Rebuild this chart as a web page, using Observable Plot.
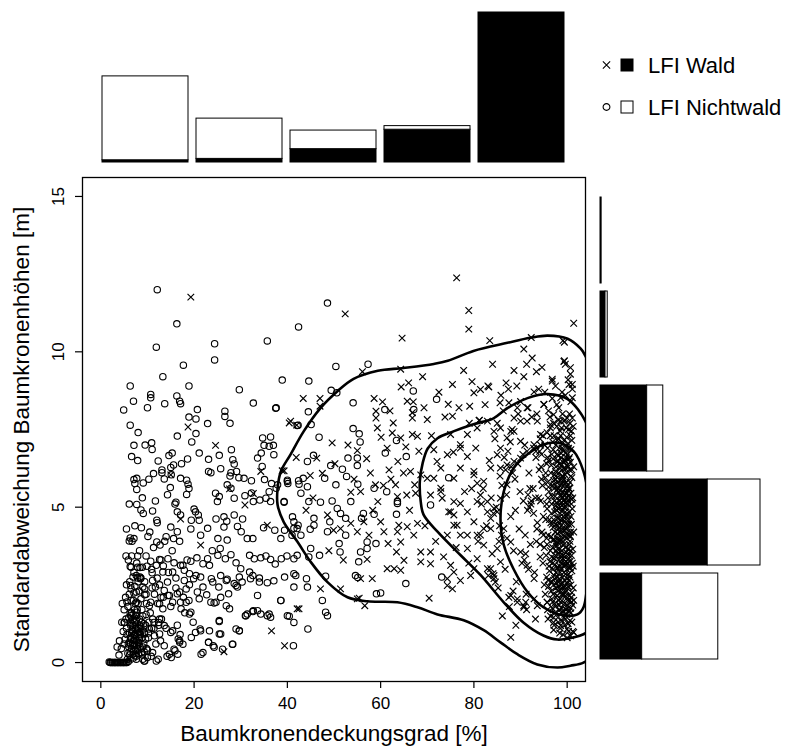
<!DOCTYPE html>
<html><head><meta charset="utf-8">
<script src="https://cdn.jsdelivr.net/npm/d3@7"></script>
<script src="https://cdn.jsdelivr.net/npm/@observablehq/plot@0.6"></script>
<style>
html,body{margin:0;padding:0;background:#fff;}
#chart{position:relative;width:787px;height:747px;overflow:hidden;font-family:"Liberation Sans",Arial,Helvetica,sans-serif;}
#chart svg{position:absolute;left:0;top:0;}
</style></head><body><div id="chart"></div>
<script>
// ---------- labels & ticks ----------
const xTitle = "Baumkronendeckungsgrad [%]";
const yTitle = "Standardabweichung Baumkronenhöhen [m]";
const xTicks = [0, 20, 40, 60, 80, 100];
const yTicks = [0, 5, 10, 15];
const legendLabels = ["LFI Wald", "LFI Nichtwald"];

// ---------- marginal histograms (counts) ----------
const xBins = ["0–20", "20–40", "40–60", "60–80", "80–100"];
const topWald = [8, 13, 48, 118, 540];
const topNichtwald = [302, 145, 67, 13, 0];
const yBins = ["0–3", "3–6", "6–9", "9–12", "12–15"];
const rightWald = [150, 386, 168, 18, 4];
const rightNichtwald = [274, 190, 58, 8, 0];

// ---------- LFI Nichtwald points [cover %, sd m] ----------
const nichtwaldZero = [[2.0,0],[2.15,0],[2.4,0],[2.55,0],[2.8,0],[3.0,0],[3.1,0],[3.35,0],[3.6,0],[3.7,0],[3.95,0],[4.2,0],[4.3,0],[4.55,0],[4.8,0],[4.9,0],[5.15,0],[5.4,0],[5.6,0],[1.8,0.02],[5.9,0.03]];
const nichtwaldLeft = [[12.1,12.0],[16.3,10.9],[11.9,10.15],[24.4,10.26],[24.4,9.74],[35.7,10.35],[17.7,9.57],[13.3,9.2],[18.9,8.9],[6.3,8.9],[7.0,8.41],[4.9,8.13],[10.7,8.63],[10.7,8.52],[10.0,8.2],[13.7,8.33],[16.3,8.58],[16.9,8.41],[17.1,8.33],[29.7,8.78],[32.7,8.35],[37.6,8.2],[38.9,9.09],[42.4,10.8],[20.7,8.14],[18.9,7.9],[20.4,7.84],[20.4,7.37],[22.9,7.69],[26.6,8.09],[26.6,7.92],[27.7,7.7],[6.3,7.64],[8.0,7.4],[16.4,7.29],[7.1,6.99],[10.9,7.07],[11.0,6.86],[6.6,6.63],[12.3,6.49],[14.6,6.66],[15.3,6.74],[21.1,6.74],[23.1,6.54],[25.4,6.67],[28.0,6.85],[28.3,6.53],[28.6,6.39],[18.6,6.55],[34.7,7.23],[36.4,7.26],[35.0,6.99],[37.0,6.99],[36.1,6.96],[33.6,6.58],[34.4,6.74],[37.1,6.69],[34.6,6.31],[42.1,7.63],[15.0,6.28],[15.6,6.36],[13.1,6.11],[15.1,6.04],[7.1,5.89],[7.7,5.93],[7.3,5.76],[9.1,5.78],[7.7,5.57],[11.3,6.08],[13.6,5.91],[14.9,5.63],[17.1,5.93],[18.4,5.87],[18.7,5.74],[23.1,6.15],[23.6,6.11],[25.7,6.24],[27.7,6.0],[27.9,6.11],[29.1,6.15],[29.6,5.95],[27.1,5.72],[27.9,5.61],[30.7,5.93],[32.3,5.85],[35.1,5.89],[36.6,5.76],[37.9,5.72],[40.0,5.87],[40.1,5.76],[42.4,5.85],[24.6,5.45],[25.4,5.34],[18.4,5.41],[25.0,5.18],[28.6,5.29],[30.9,5.37],[32.3,5.46],[32.7,5.18],[34.1,5.23],[35.4,5.29],[36.1,5.5],[36.4,5.18],[37.6,5.61],[39.3,5.18],[7.7,5.09],[8.6,4.91],[11.1,4.88],[16.1,5.16],[16.4,4.85],[17.1,4.75],[20.0,4.94],[20.3,4.85],[20.9,4.75],[19.4,4.58],[21.1,4.58],[12.0,4.58],[8.7,4.34],[15.0,4.36],[16.4,4.21],[15.6,3.99],[14.0,4.05],[6.3,4.01],[6.1,3.91],[7.1,3.99],[10.1,4.06],[12.0,3.88],[12.7,3.78],[21.4,4.1],[22.9,4.32],[24.7,4.62],[26.4,4.69],[27.0,4.55],[26.4,4.36],[25.1,3.99],[27.1,3.94],[29.3,4.38],[30.1,4.21],[31.4,3.99],[32.6,3.99],[28.6,4.75],[30.4,4.62],[34.9,4.34],[37.3,4.26],[39.4,4.26],[38.6,3.99],[41.0,4.1],[41.4,4.32],[42.3,4.42],[41.1,4.69]];
const nichtwaldLow = [[5.4,3.43],[6.6,3.43],[7.9,3.43],[9.7,3.43],[10.7,3.26],[12.6,3.32],[14.4,3.34],[15.7,3.21],[13.4,3.11],[17.1,3.13],[17.9,2.97],[19.3,3.26],[20.6,3.37],[21.9,3.18],[22.9,3.34],[23.9,3.6],[25.6,3.67],[25.1,3.45],[26.7,3.34],[27.9,3.47],[29.0,3.21],[30.0,3.02],[31.9,3.45],[32.9,3.34],[34.3,3.37],[35.4,3.43],[36.4,3.32],[37.4,3.17],[38.7,3.34],[39.9,3.43],[41.4,3.34],[6.3,3.09],[8.4,3.06],[7.6,2.8],[8.4,2.75],[11.0,2.89],[12.1,2.72],[14.3,2.59],[16.1,2.72],[17.9,2.64],[19.9,2.7],[21.4,2.75],[23.7,2.7],[25.7,2.8],[27.1,2.68],[28.6,2.54],[30.3,2.59],[32.1,2.7],[34.0,2.72],[35.7,2.57],[37.1,2.63],[39.4,2.75],[41.4,2.86],[6.4,2.48],[9.0,2.43],[7.1,2.24],[9.4,2.18],[10.7,1.94],[12.9,2.1],[14.4,2.16],[16.4,2.21],[17.1,1.94],[18.9,2.0],[20.7,2.27],[22.7,2.18],[24.3,1.92],[25.7,2.1],[27.4,2.21],[29.3,2.43],[31.4,1.56],[32.7,1.67],[34.3,1.56],[36.1,1.56],[38.6,2.0],[40.4,1.49],[5.0,1.29],[6.4,1.51],[7.7,1.62],[6.4,1.19],[7.1,0.86],[8.3,0.76],[9.3,0.97],[7.1,0.54],[7.3,0.22],[8.7,0.32],[10.0,0.16],[9.3,0.05],[11.4,1.29],[12.6,1.4],[13.6,1.19],[15.0,0.97],[16.9,0.65],[16.6,0.76],[14.7,0.27],[15.7,0.43],[19.3,1.62],[20.3,0.97],[21.4,1.02],[21.9,0.32],[23.1,0.65],[24.1,0.54],[25.4,1.35],[25.7,0.92],[28.2,0.59],[29.7,1.02],[31.0,1.51],[41.3,0.54],[12.3,0.11],[3.9,0.24],[5.7,0.11]];
const nichtwaldCorner = [[6.5,3.07],[7.9,3.07],[8.9,3.07],[6.9,2.75],[7.9,2.72],[8.6,2.72],[11.9,3.13],[13.3,2.91],[15.4,2.91],[17.6,3.13],[19.0,2.86],[20.4,2.8],[23.3,3.13],[6.5,2.37],[7.6,2.27],[9.4,2.37],[11.1,2.64],[11.7,2.43],[13.6,2.32],[14.7,2.16],[16.9,2.27],[18.3,2.37],[21.9,2.43],[24.0,2.59],[25.3,2.43],[26.9,2.64],[29.0,2.48],[29.7,2.75],[31.9,2.91],[32.6,2.8],[34.0,2.59],[33.6,2.16],[7.6,1.94],[8.6,2.05],[10.4,1.83],[12.6,1.89],[13.3,1.73],[15.4,1.94],[17.2,1.73],[18.3,1.94],[19.0,1.56],[21.1,2.05],[23.6,1.94],[24.7,1.94],[26.9,1.83],[27.6,1.73],[31.1,1.51],[32.6,1.64],[33.6,1.67],[5.1,1.29],[6.9,1.4],[7.6,1.51],[8.3,1.4],[6.9,1.19],[6.1,0.97],[6.5,0.76],[7.2,0.59],[7.9,0.43],[6.9,0.27],[8.3,0.97],[9.4,0.92],[10.4,1.08],[11.1,1.4],[12.4,1.29],[11.5,0.86],[12.6,0.92],[13.6,0.54],[11.1,0.32],[9.4,0.05],[15.4,1.02],[16.9,0.7],[17.6,0.59],[15.9,0.38],[15.1,0.16],[16.5,0.27],[19.4,0.81],[21.3,1.08],[23.3,1.02],[25.4,0.92],[21.5,0.27],[23.1,0.65],[24.3,0.49],[26.1,0.43],[28.3,0.59],[29.0,1.08],[29.7,1.02],[25.4,1.32],[7.6,0.11],[9.0,0.11],[11.9,0.05],[6.1,0.65],
[6.6,0.45],[7.0,0.7],[7.4,0.4],[7.8,0.95],[8.2,0.6],[8.6,1.15],[9.0,0.5],[9.6,0.75],[10.2,0.95],[6.8,1.05],[7.5,1.1],[8.9,0.25],[6.3,0.35],[7.3,1.3],[8.0,0.8],[9.8,0.45],[7.6,0.2],[8.5,0.9],
[3.5,0.5],[4.0,0.7],[4.4,0.45],[4.8,1.0],[5.2,0.75],[5.5,1.1],[5.9,0.6],[6.3,1.6],[6.7,1.25],[7.2,1.7],[7.6,1.35],[8.0,1.9],[4.5,1.3],[5.0,1.7],[5.6,1.95],[6.0,1.45],[6.6,0.95],[7.0,0.35],[7.3,0.75],[7.7,0.55],[8.1,0.65],[8.4,1.2],[5.8,0.3],[6.4,0.6],[7.9,1.05],[6.9,1.55],[7.4,1.9],[8.8,1.7],[9.2,1.25],[9.7,1.55],[10.3,1.3],[10.9,1.1],[6.1,2.2],[7.3,2.45],[8.0,2.6],[5.5,2.5]];
const nichtwaldExtra = [[5.3,2.1],[5.8,1.8],[6.2,2.6],[6.6,1.6],[7.0,2.0],[7.4,1.2],[7.8,1.7],[8.2,2.3],[8.6,1.0],[9.0,1.5],[9.4,2.6],[9.8,1.9],[10.2,0.8],[10.6,1.6],[11.0,2.4],[11.4,1.1],[11.8,0.6],[12.2,1.9],[12.6,2.5],[13.0,1.4],[5.6,0.9],[6.0,0.5],[6.4,0.8],[6.8,0.6],[7.2,0.9],[7.6,0.7],[8.0,1.1],[8.4,0.5],[8.8,0.8],[9.2,0.6],[9.6,1.2],[10.0,0.4],[6.3,1.3],[6.9,1.0],[7.5,1.5],[8.1,0.3],[8.7,1.3],[9.3,0.35],[5.9,3.3],[6.7,3.9],[7.3,4.4],[8.3,3.6],[9.1,4.8],[9.9,3.1],[10.5,4.2],[11.3,3.7],[12.1,4.5],[12.9,3.3],[13.7,3.9],[14.5,2.9],[15.3,3.6],[16.1,2.4],[16.9,3.9],[17.7,2.1],[18.5,3.3],[19.3,4.3],[8.9,5.3],[10.3,5.9],[11.7,5.2],[13.1,6.2],[14.3,5.4],[15.9,5.1],[17.3,6.4],[18.9,5.6],[19.5,7.1],[7.9,6.5],[9.5,7.0],[6.1,5.1],[5.5,4.3],[6.5,2.0],[7.1,2.9],[7.7,3.2],[8.5,2.7],[9.7,2.2],[10.9,3.0],[11.5,2.2],[12.4,1.2],[13.4,2.1],[14.0,1.1],[15.0,1.8],[16.4,1.2],[17.0,0.9],[18.0,1.6],[19.0,2.5],[19.8,1.3],[5.0,0.6],[5.4,1.4],[4.6,1.9],[6.2,0.25],[7.0,0.15],[7.9,0.45],[10.8,0.2],[12.8,0.7],[14.2,0.2]];
const nichtwaldMid = [[50.4,9.53],[57.3,9.6],[44.6,9.06],[49.4,8.76],[50.6,8.68],[54.1,8.36],[37.5,8.18],[44.5,8.07],[42.3,7.64],[45.1,7.66],[54.1,7.53],[55.4,7.36],[46.8,7.25],[67.0,8.74],[72.0,8.47],[67.1,8.14],[60.9,8.14],[55.6,7.1],[53.0,6.58],[55.0,6.58],[55.0,6.34],[61.0,6.74],[63.4,7.15],[65.5,6.63],[45.6,6.67],[44.3,6.47],[49.3,6.34],[51.8,6.22],[52.7,5.99],[48.0,5.93],[50.4,5.72],[43.4,5.93],[42.5,5.74],[44.3,5.66],[40.0,5.83],[39.3,5.16],[42.9,5.45],[44.6,5.18],[47.1,5.16],[49.6,5.2],[50.7,4.96],[51.4,4.8],[53.6,5.18],[55.1,5.74],[58.6,5.61],[61.3,5.5],[63.6,5.12],[63.4,4.77],[58.6,4.77],[56.3,4.8],[55.9,4.64],[52.5,4.64],[49.1,4.53],[45.7,4.64],[45.7,4.42],[41.4,4.53],[42.1,4.31],[44.9,4.29],[42.9,4.1],[48.6,4.21],[51.1,3.83],[51.3,3.56],[52.5,4.1],[57.1,3.88],[55.7,3.56],[57.1,3.67],[59.0,3.83],[55.3,3.24],[54.6,2.8],[55.1,2.74],[48.2,2.78],[46.9,3.45],[44.6,3.4],[45.0,3.67],[42.1,3.45],[41.8,2.8],[44.1,2.7],[44.3,2.43],[41.4,2.43],[38.6,2.0],[47.5,2.0],[48.2,1.62],[48.6,1.51],[59.1,2.21],[65.4,2.54],[73.1,2.75],[74.6,5.95],[70.7,5.07],[63.6,5.18],[36.4,1.46],[35.7,1.51],[40.0,1.51],[48.6,11.57],[44.4,1.08],[41.4,1.29],[60.0,2.24]];

// ---------- LFI Wald points [cover %, sd m] ----------
const waldLeft = [[19.3,11.76],[18.7,7.58],[24.6,6.99],[34.3,6.15],[38.9,6.17],[40.4,7.71],[27.6,5.59],[32.7,5.44],[17.1,4.62],[35.7,4.42],[26.4,0.35],[36.6,1.02],[39.4,0.54],[6.1,0.1],[15.0,6.04],[30.9,5.07],[21.4,3.78]];
const waldMid = [[78.9,10.73],[64.6,10.44],[83.4,10.36],[92.3,10.46],[101.4,10.92],[90.7,10.09],[99.1,10.36],[56.1,9.36],[64.3,9.44],[91.3,9.6],[93.4,9.36],[96.8,9.12],[99.3,9.69],[100.7,9.49],[101.1,8.95],[64.4,8.87],[75.4,8.95],[79.6,9.04],[80.0,8.68],[81.4,8.79],[83.2,8.87],[43.4,8.5],[47.0,8.5],[47.0,8.25],[58.6,8.5],[60.4,8.39],[59.0,8.09],[59.0,7.87],[59.3,7.55],[65.7,8.41],[67.0,8.39],[69.3,8.2],[70.0,7.82],[66.8,8.04],[66.8,7.87],[74.5,8.31],[75.4,7.93],[79.1,8.25],[81.1,7.79],[85.6,8.36],[87.5,8.36],[89.3,8.2],[92.9,8.71],[62.7,7.71],[60.1,7.25],[62.5,7.39],[64.3,7.23],[66.8,7.34],[67.9,7.28],[65.4,6.94],[61.4,6.9],[63.7,6.47],[49.6,7.07],[40.7,7.77],[42.0,7.64],[55.0,6.82],[57.0,6.56],[46.3,6.58],[47.5,6.09],[44.9,6.02],[39.3,6.17],[53.6,5.48],[55.7,5.5],[58.9,5.72],[60.6,5.7],[59.4,5.18],[63.2,5.72],[63.6,5.34],[65.6,5.39],[67.5,5.45],[67.3,5.72],[66.4,6.15],[68.6,6.04],[70.0,5.93],[70.7,5.39],[72.9,5.61],[73.2,5.29],[71.4,6.85],[72.1,6.47],[75.6,6.77],[77.1,6.9],[78.6,6.63],[77.1,6.26],[80.0,6.04],[80.7,5.77],[78.0,5.5],[75.7,5.93],[74.6,4.85],[75.7,4.75],[77.1,5.12],[78.6,4.85],[80.7,5.18],[82.9,5.18],[84.3,4.96],[83.6,4.64],[82.1,4.31],[81.4,4.1],[80.0,4.53],[78.6,4.1],[75.7,4.42],[74.3,4.1],[48.6,4.75],[49.9,4.26],[51.4,4.31],[53.6,4.48],[55.0,4.21],[56.4,4.53],[57.5,4.1],[60.0,4.53],[60.7,4.21],[61.6,3.83],[63.6,4.21],[64.3,3.88],[65.7,4.37],[67.1,4.1],[67.9,4.48],[63.9,4.42],[63.4,3.56],[61.4,3.02],[62.9,3.02],[64.3,2.97],[65.0,3.29],[68.6,3.56],[70.7,3.56],[70.7,3.18],[68.6,3.24],[57.1,3.32],[58.2,2.7],[55.7,2.7],[51.4,2.37],[47.1,2.37],[55.4,2.07],[56.6,1.83],[70.4,2.07],[74.3,2.48],[75.4,2.37],[77.1,2.64],[74.3,2.7],[75.7,2.91],[79.3,2.8],[80.0,3.02],[83.6,3.02],[84.3,2.7],[87.5,2.1],[89.3,1.94],[90.7,1.83],[92.9,2.05],[42.1,1.73],
[45.5,5.3],[50.2,6.4],[52.0,3.3],[54.3,5.9],[57.8,6.1],[44.0,4.9],[48.9,3.6],[58.3,4.9],[41.9,6.6],[53.0,7.0],
[61.8,6.2],[62.2,5.9],[64.9,6.1],[66.2,4.9],[69.5,4.4],[71.8,3.9],[73.5,3.4],[76.2,3.7],[78.9,3.2],[79.5,5.6],[68.2,6.8],[70.9,7.3],[73.8,7.9],[76.8,8.2],[79.0,7.7],[62.0,8.1],[66.0,9.0],[69.0,9.2],[72.5,8.7],[77.8,9.4],
[76.3,12.38],[78.9,11.33],[99.4,10.31],[99.4,9.71],[52.4,11.22],[84.1,2.86],[84.6,2.59],[90.7,1.78],[95.7,1.94],[75.0,3.13],[55.0,2.05],[42.5,1.73],[87.9,0.81]];
const waldRight = [[97.1,1.29],[98.6,1.19],[100.0,1.08],[101.4,0.97],[100.7,0.86],[95.7,1.94],[93.6,1.83],[91.1,1.94],[89.3,2.05],[87.9,2.16],[91.4,3.13],[92.9,2.7],[90.0,3.56],[87.9,3.88],[86.4,4.31],[85.0,4.85],[85.7,5.29],[87.1,5.72],[85.7,6.26],[87.1,6.36],[88.6,6.47],[90.0,6.58],[91.4,6.8],[92.9,7.01],[90.0,7.12],[94.3,7.34],[96.4,7.66],[98.6,7.77],[100.0,7.87],[91.4,7.77],[88.6,7.87],[87.9,7.44],[85.0,6.69],[83.6,6.26],[82.1,5.83],[80.0,6.15],[81.4,5.39],[82.9,4.85],[80.7,4.1],[82.1,3.78],[83.6,4.31],[85.0,3.67],[85.7,3.24],[84.3,2.8],[82.9,3.02],[80.7,3.34],[78.6,3.67],[77.1,4.1],[76.4,4.42],[75.0,4.85],[75.7,5.18],[72.9,5.5],[71.4,5.93],[72.9,6.26],[74.3,6.69],[77.1,7.01],[78.6,7.34],[75.0,7.34],[80.7,7.55],[84.3,7.44],[85.7,7.55],[82.9,7.77],
[99.6,9.6],[100.7,9.28],[100.4,8.95],[96.8,9.06],[98.6,8.52],[101.1,8.52],[97.1,7.98],[99.3,7.77],[101.1,7.87],[96.4,7.55],[93.6,7.77],[91.4,8.2],[95.0,8.31],[90.0,7.77],[88.6,7.44],[87.1,7.23],[85.7,6.9]];
const waldBand = [[80.4,6.9],[81.2,7.8],[82.0,5.6],[82.7,4.4],[83.3,6.5],[83.9,3.5],[84.5,7.2],[84.8,5.0],[85.2,2.4],[85.6,6.0],[85.9,4.1],[86.3,8.1],[86.7,3.0],[87.0,5.4],[87.3,6.8],[87.6,1.8],[87.9,4.7],[88.2,7.5],[88.5,3.6],[88.8,5.9],[89.1,2.6],[89.4,6.4],[89.7,4.3],[90.0,8.4],[90.3,3.2],[90.6,5.2],[90.9,7.0],[91.2,2.2],[91.5,4.9],[91.8,6.1],[92.1,3.8],[92.4,7.9],[92.7,5.6],[93.0,2.9],[93.3,6.6],[93.6,4.5],[93.9,8.8],[94.2,3.4],[94.5,5.9],[94.8,7.3],[95.1,2.5],[80.9,3.9],[81.6,5.1],[82.4,8.3],[83.1,2.8],[83.7,5.3],[84.2,4.8],[85.0,7.7],[85.4,3.9],[86.0,5.7],[86.5,6.6],[87.1,4.0],[87.8,7.1],[88.4,2.3],[88.9,4.9],[89.5,8.0],[89.9,5.5],[90.5,6.7],[91.0,4.1],[91.7,3.0],[92.2,5.1],[92.8,6.9],[93.4,3.9],[93.9,5.3],[94.4,6.3],[94.9,4.1],[86.1,1.5],[89.0,1.2],[91.3,1.7],[93.2,1.4],[84.0,9.6],[86.9,9.0],[88.6,9.4],[90.7,9.2],[92.5,9.8],[94.6,9.5],[83.0,8.9],[85.8,8.6],[87.4,8.8],[89.2,8.9],[91.6,8.2],[93.5,8.0],[95.2,8.7],[91.6,5.4],[92.0,5.6],[92.3,5.2],[91.9,5.0],[90.8,3.3],[91.1,3.5],[88.0,6.3],[88.3,6.1],[86.8,6.2],[85.5,4.4],[94.1,6.8],[94.3,7.0]];
const waldCore = [[97.2,1.2],[98.5,1.1],[99.6,1.4],[100.3,1.0],[101.0,1.3],[96.4,1.5],[99.1,0.9],[100.8,1.6],[98.0,1.45],
[95.8,1.7],[97.5,1.8],[98.7,1.6],[99.4,1.9],[100.1,1.75],[101.2,1.85],[96.9,1.95],[98.2,2.0],[99.9,1.55],[100.6,2.0],
[95.3,2.2],[96.6,2.3],[97.8,2.15],[98.9,2.4],[99.5,2.25],[100.2,2.45],[100.9,2.1],[97.1,2.5],[98.4,2.35],[99.8,2.05],[96.0,2.45],[101.3,2.4],
[95.6,2.75],[96.8,2.6],[97.6,2.9],[98.3,2.7],[99.0,2.55],[99.7,2.85],[100.4,2.65],[101.0,2.95],[98.8,3.0],[97.2,2.8],[100.0,2.55],[96.2,2.95],
[94.8,3.2],[96.1,3.1],[97.3,3.35],[98.1,3.05],[98.9,3.3],[99.6,3.15],[100.3,3.45],[101.1,3.2],[97.9,3.5],[99.2,3.45],[100.7,3.05],[96.7,3.4],[95.5,3.45],
[95.1,3.7],[96.4,3.6],[97.5,3.85],[98.4,3.65],[99.1,3.9],[99.8,3.55],[100.5,3.8],[101.2,3.65],[98.0,4.0],[96.9,3.95],[100.0,4.0],[94.2,3.8],
[94.6,4.2],[95.9,4.1],[97.0,4.35],[97.9,4.15],[98.7,4.4],[99.5,4.25],[100.2,4.1],[100.9,4.45],[96.5,4.5],[98.3,4.5],[99.9,4.45],[93.5,4.3],
[94.9,4.7],[96.2,4.6],[97.3,4.85],[98.1,4.65],[98.9,4.9],[99.6,4.75],[100.4,4.6],[101.1,4.95],[97.8,5.0],[99.3,5.0],[95.7,4.95],[92.8,4.8],
[94.3,5.2],[95.6,5.1],[96.8,5.35],[97.7,5.15],[98.6,5.4],[99.4,5.25],[100.1,5.1],[100.8,5.45],[96.1,5.5],[98.2,5.5],[99.8,5.45],[93.2,5.3],
[94.7,5.7],[96.0,5.65],[97.1,5.85],[98.0,5.6],[98.8,5.9],[99.5,5.75],[100.3,5.6],[101.0,5.95],[97.6,6.0],[99.1,6.0],[95.3,5.95],
[94.0,6.2],[95.4,6.1],[96.6,6.35],[97.5,6.15],[98.4,6.4],[99.2,6.25],[100.0,6.1],[100.7,6.45],[96.0,6.5],[98.0,6.5],[99.6,6.5],
[94.5,6.7],[95.8,6.6],[97.0,6.85],[98.1,6.65],[98.9,6.9],[99.7,6.75],[100.5,6.6],[97.6,7.0],[93.3,6.8],
[94.2,7.2],[95.7,7.4],[96.9,7.1],[97.8,7.6],[98.6,7.3],[99.5,7.8],[100.3,7.5],[101.0,7.15],[96.3,7.9],[99.0,8.0],
[95.0,8.3],[96.8,8.5],[98.2,8.2],[99.6,8.6],[100.8,8.4],[97.5,8.9],[100.2,9.1],[101.1,8.8],
[97.4,1.6],[98.1,1.3],[98.8,1.75],[99.3,1.45],[100.0,1.85],[100.6,1.35],[97.9,2.15],[98.6,1.95],[99.2,2.2],[99.9,2.3],[100.5,2.15],[97.6,2.4],[98.3,2.6],[99.0,2.75],[99.6,2.45],[100.3,2.85],[100.8,2.5],[97.8,3.05],[98.5,2.9],[99.3,3.15],[99.9,3.0],[100.6,3.25],[97.5,3.45],[98.2,3.3],[98.9,3.6],[99.5,3.4],[100.2,3.65],[100.9,3.45],[97.7,3.75],[98.6,3.95],[99.3,3.8],[99.9,4.15],[100.6,3.9],[97.4,4.2],[98.1,4.3],[98.8,4.05],[99.4,4.55],[100.0,4.35],[100.7,4.2],[97.9,4.65],[98.5,4.8],[99.2,4.7],[99.8,5.0],[100.4,4.85],[97.6,5.05],[98.3,5.2],[99.0,5.3],[99.7,5.15],[100.3,5.35],[100.9,5.1],[97.8,5.55],[98.4,5.7],[99.1,5.5],[99.8,5.8],[100.5,5.6],[97.5,5.9],[98.2,6.1],[98.9,6.2],[99.5,6.05],[100.2,6.3],[100.8,6.0],[97.9,6.45],[98.7,6.6],[99.4,6.5],[100.1,6.7],[98.3,6.9],[99.0,7.05],[99.7,6.95],[97.2,7.3],[98.5,7.45],[99.9,7.25],[100.6,7.7],
[95.9,1.4],[96.7,2.05],[97.3,2.7],[96.3,3.25],[96.9,3.7],[95.6,4.0],[96.6,4.8],[97.2,5.6],[95.9,5.3],[96.5,6.1],[97.0,6.55],[95.8,6.9],[96.4,7.3],[97.1,7.7],[96.0,8.1],[97.8,8.3],[98.9,8.7],[100.5,8.0],[101.3,7.6],[101.4,6.3],[101.2,5.3],[101.4,4.2],[101.3,3.1],[101.4,2.0],[101.2,1.0],[100.0,0.8],[98.4,0.95],[99.5,1.2],[98.9,1.35],[97.1,1.05],
[98.0,2.3],[98.7,2.5],[99.4,2.65],[100.1,2.0],[98.4,3.1],[99.1,3.35],[99.8,3.55],[100.4,3.05],[98.1,3.85],[98.8,4.25],[99.5,4.05],[100.3,4.45],[98.2,4.95],[98.9,5.15],[99.6,4.85],[100.2,5.2],[98.0,5.8],[98.6,5.35],[99.3,5.9],[100.0,5.45],[98.8,6.35],[99.6,6.25],[100.4,6.55],[99.1,4.6],[98.6,3.45],[99.2,2.45],[99.7,1.7],[98.5,2.05],[100.4,1.65],[99.0,5.75]];
const waldCore2 = [[97.3,1.9],[98.4,1.7],[99.5,1.55],[100.7,1.75],[97.7,2.55],[98.9,2.2],[100.0,2.7],[101.0,2.25],[97.4,3.15],[98.7,3.2],[99.7,3.25],[100.8,3.6],[97.6,3.6],[98.3,3.9],[99.6,3.7],[100.7,4.05],[97.5,4.45],[98.6,4.6],[99.7,4.3],[100.8,4.7],[97.7,4.9],[98.8,5.05],[99.9,5.3],[101.0,5.25],[97.4,5.35],[98.5,5.55],[99.6,5.6],[100.6,5.8],[97.9,5.95],[98.9,6.0],[100.0,6.35],[101.0,6.2],[97.6,6.3],[98.6,6.75],[99.8,6.6],[100.8,6.85],[97.9,7.15],[99.3,7.15],[100.2,7.05],[98.1,7.8],[99.8,7.55],[100.9,7.45],
[97.1,1.45],[98.3,1.85],[99.1,1.65],[100.2,1.25],[100.9,1.95],[97.0,2.2],[98.1,2.45],[99.7,2.15],[100.6,2.75],[97.9,2.75],[99.3,2.9],[100.1,3.2],[97.0,3.0],[98.0,3.65],[99.0,3.45],[100.4,3.35],[97.2,3.95],[98.4,4.2],[99.2,4.25],[100.5,4.1],[97.1,4.6],[98.0,4.4],[99.5,4.65],[100.1,4.75],[97.3,5.2],[98.5,5.0],[99.2,5.2],[100.6,5.3],[97.2,5.75],[98.7,5.75],[99.4,5.4],[100.2,5.7],[97.3,6.05],[98.5,6.25],[99.1,6.45],[100.5,6.2],[97.8,6.7],[99.2,6.8],[100.3,6.9],[98.2,7.2],[98.8,7.55],[100.7,7.3],
[96.8,1.75],[96.5,2.6],[96.9,3.2],[96.6,4.05],[96.8,4.45],[96.7,5.1],[96.9,5.7],[96.7,6.7],[95.9,2.65],[95.7,3.8],[95.4,4.6],[95.8,5.8],[95.6,6.4],[95.2,7.0]];

// ---------- density contours (traced) ----------
const contourOuter = [[105,9.4],[103.9,9.87],[102.9,10.10],[100.1,10.42],[95.8,10.52],[92.1,10.45],[87.2,10.29],[79.9,10.03],[74.4,9.71],[71.4,9.61],[64.9,9.48],[59.4,9.39],[54.2,9.13],[50.8,8.74],[47.1,8.19],[43.5,7.44],[40.7,6.70],[38.6,6.15],[37.9,5.60],[37.9,5.08],[39.2,4.53],[42.2,3.88],[45.0,3.24],[48.6,2.59],[52.9,2.10],[57.2,1.97],[63.6,1.94],[67.9,1.78],[72.2,1.55],[77.8,1.36],[82.1,1.04],[85.7,0.65],[89.4,0.26],[93.6,-0.06],[97.9,-0.16],[100.7,-0.10],[103.5,0.0],[106,0.3],[107.5,5]];
const contourMiddle = [[105,5.2],[104.6,7.4],[103.9,7.77],[100.1,8.48],[95.8,8.64],[91.5,8.51],[87.2,8.19],[84.2,7.86],[79.9,7.67],[75.6,7.44],[72.2,7.22],[70.1,6.89],[69.0,6.41],[68.4,5.83],[68.6,5.18],[69.2,4.76],[72.2,4.21],[77.1,3.46],[81.4,2.82],[86.4,1.94],[90.6,1.29],[94.9,0.87],[97.9,0.74],[101.4,0.81],[103.5,0.91],[106,1.2]];
const contourInner = [[98.6,7.06],[94.9,7.02],[91.5,6.70],[88.5,6.25],[86.4,5.50],[85.7,4.63],[86.4,3.79],[88.5,3.01],[91.5,2.27],[94.9,1.78],[99.2,1.52],[102.2,1.55],[103.5,1.78],[104.6,3.2],[104.6,5.2],[103.5,6.15],[101.4,6.80]];

// ---------- build tables ----------
const nichtwald = [...nichtwaldZero, ...nichtwaldLeft, ...nichtwaldLow, ...nichtwaldCorner, ...nichtwaldExtra, ...nichtwaldMid];
const wald = [...waldLeft, ...waldMid, ...waldRight, ...waldBand, ...waldCore, ...waldCore2];
const contours = [
  ...contourOuter.map(([x, y]) => ({level: "outer", x, y})),
  ...contourMiddle.map(([x, y]) => ({level: "middle", x, y})),
  ...contourInner.map(([x, y]) => ({level: "inner", x, y}))
];
const topRows = [];
xBins.forEach((b, i) => { topRows.push({bin: b, type: "Wald", n: topWald[i]}); });
xBins.forEach((b, i) => { topRows.push({bin: b, type: "Nichtwald", n: topNichtwald[i]}); });
const rightRows = [];
yBins.forEach((b, i) => { rightRows.push({bin: b, type: "Wald", n: rightWald[i]}); });
yBins.forEach((b, i) => { rightRows.push({bin: b, type: "Nichtwald", n: rightNichtwald[i]}); });

const FONT = '"Liberation Sans", Arial, Helvetica, sans-serif';
const W = 787, H = 747;
const chartDiv = document.getElementById("chart");

// ---------- main scatter ----------
const mainPlot = Plot.plot({
  width: W, height: H,
  marginLeft: 82, marginRight: 202, marginTop: 177, marginBottom: 66,
  x: {domain: [-3.93, 103.93]},
  y: {domain: [-0.61, 15.61]},
  style: {fontFamily: FONT, background: "white", color: "black"},
  marks: [
    Plot.dot(nichtwald, {x: d => d[0], y: d => d[1], symbol: "circle", r: 3.2, stroke: "black", strokeWidth: 1.1, fill: "none"}),
    Plot.dot(wald, {x: d => d[0], y: d => d[1], symbol: "times", r: 3.1, stroke: "black", strokeWidth: 1.15, fill: "none"}),
    Plot.line(contours, {x: "x", y: "y", z: "level", curve: "catmull-rom-closed", stroke: "black", strokeWidth: 2.6, clip: true}),
    Plot.frame({stroke: "black", strokeWidth: 1.3}),
    Plot.axisX(xTicks, {tickSize: 7, tickFormat: () => "", strokeWidth: 1.2, label: null}),
    Plot.axisY(yTicks, {tickSize: 7, tickFormat: () => "", strokeWidth: 1.2, label: null}),
    Plot.text(xTicks, {x: d => d, text: d => String(d), frameAnchor: "bottom", lineAnchor: "middle", textAnchor: "middle", dy: 22, fontSize: 17, fill: "black"}),
    Plot.text(yTicks, {y: d => d, text: d => String(d), frameAnchor: "left", lineAnchor: "middle", textAnchor: "middle", dx: -24, rotate: -90, fontSize: 17, fill: "black"}),
    Plot.text([xTitle], {text: d => d, frameAnchor: "bottom", lineAnchor: "middle", textAnchor: "middle", dy: 52, fontSize: 22.5, fill: "black"}),
    Plot.text([yTitle], {text: d => d, frameAnchor: "left", lineAnchor: "middle", textAnchor: "middle", dx: -61, rotate: -90, fontSize: 22.5, fill: "black"})
  ]
});
chartDiv.appendChild(mainPlot);

// ---------- top marginal histogram ----------
const topPlot = Plot.plot({
  width: W, height: H,
  marginLeft: 100, marginRight: 220, marginTop: 12, marginBottom: 585,
  x: {type: "band", domain: xBins, paddingInner: 0.084, paddingOuter: 0, axis: null},
  y: {domain: [0, 540], axis: null},
  color: {domain: ["Wald", "Nichtwald"], range: ["black", "white"]},
  style: {background: "none"},
  marks: [
    Plot.barY(topRows, {x: "bin", y: "n", fill: "type", stroke: "black", strokeWidth: 1})
  ]
});
topPlot.style.pointerEvents = "none";
chartDiv.appendChild(topPlot);

// ---------- right marginal histogram ----------
const rightPlot = Plot.plot({
  width: W, height: H,
  marginLeft: 600, marginRight: 27, marginTop: 195, marginBottom: 85,
  y: {type: "band", domain: yBins.slice().reverse(), paddingInner: 0.084, paddingOuter: 0, axis: null},
  x: {domain: [0, 576], axis: null},
  color: {domain: ["Wald", "Nichtwald"], range: ["black", "white"]},
  style: {background: "none"},
  marks: [
    Plot.barX(rightRows, {y: "bin", x: "n", fill: "type", stroke: "black", strokeWidth: 1})
  ]
});
rightPlot.style.pointerEvents = "none";
chartDiv.appendChild(rightPlot);

// ---------- legend ----------
const leg = d3.create("svg").attr("width", W).attr("height", H).style("background", "none");
const legRows = [
  {label: legendLabels[0], sym: d3.symbolTimes, fill: "black", cy: 65},
  {label: legendLabels[1], sym: d3.symbolCircle, fill: "white", cy: 107}
];
legRows.forEach(r => {
  const g = leg.append("g");
  g.append("path").attr("d", d3.symbol(r.sym, Math.PI * 3.4 * 3.4)()).attr("transform", `translate(606.5,${r.cy})`)
    .attr("fill", "none").attr("stroke", "black").attr("stroke-width", 1.1);
  g.append("rect").attr("x", 621).attr("y", r.cy - 6).attr("width", 12).attr("height", 12)
    .attr("fill", r.fill).attr("stroke", "black").attr("stroke-width", 1);
  g.append("text").attr("x", 648).attr("y", r.cy + 8).attr("font-size", 22).attr("font-family", FONT)
    .attr("fill", "black").text(r.label);
});
chartDiv.appendChild(leg.node());
</script></body></html>
